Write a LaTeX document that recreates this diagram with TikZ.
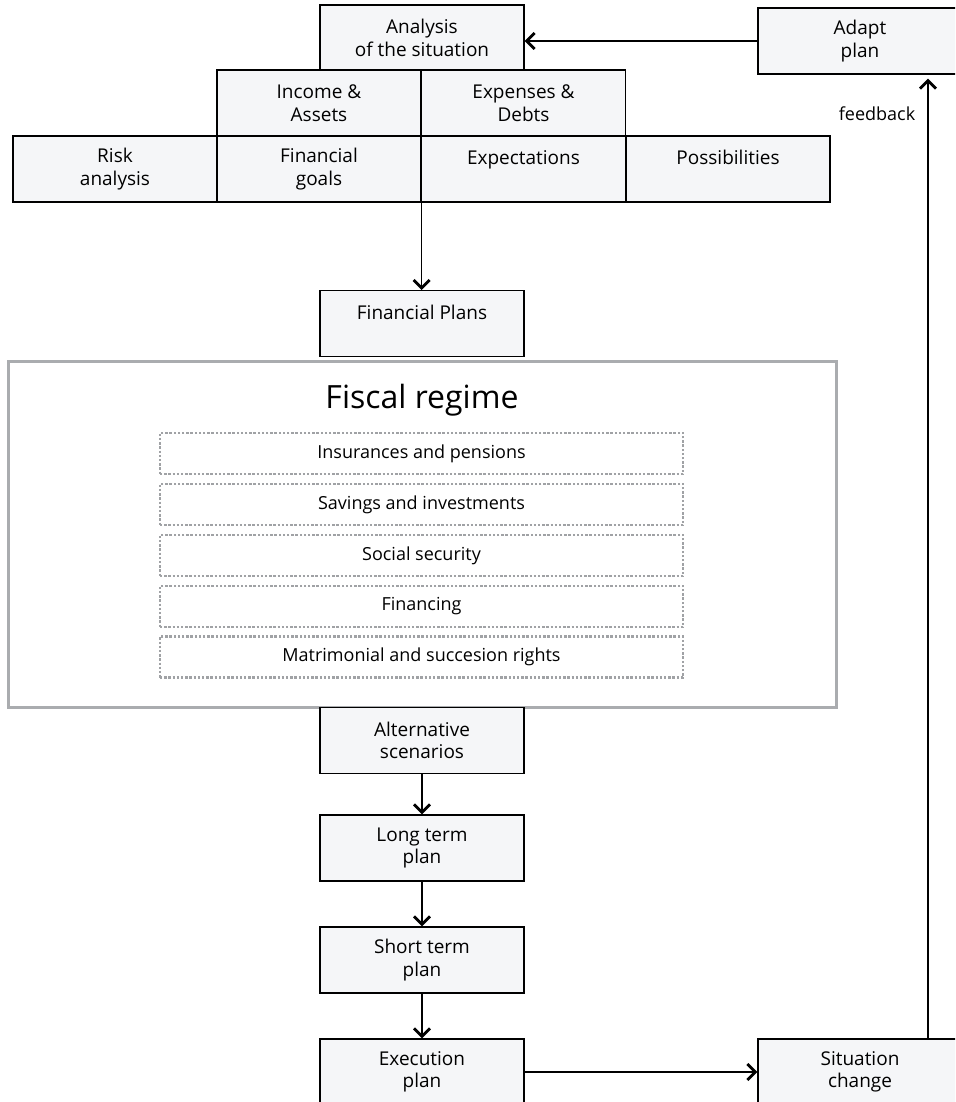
\documentclass[tikz,border=0pt]{standalone}
\usepackage{fontspec}
\setmainfont{Open Sans}
\usetikzlibrary{arrows.meta,positioning}
\definecolor{boxfill}{RGB}{245,246,248}
\definecolor{framegray}{RGB}{170,172,175}
\definecolor{dotgray}{RGB}{160,162,165}
\tikzset{
  stepbox/.style = {draw=black, line width=1.2pt, fill=boxfill, minimum width=204pt, minimum height=66pt, inner sep=0pt, align=center, font=\fontsize{19}{22.5}\selectfont},
  topicbox/.style = {draw=dotgray, line width=2.6pt, dash pattern=on 2.4pt off 1.8pt, minimum width=523pt, minimum height=41pt, inner sep=0pt, font=\fontsize{18}{20}\selectfont},
  regimebox/.style = {draw=framegray, line width=3pt, fill=white, minimum width=828pt, minimum height=346pt, inner sep=0pt},
  flow/.style = {line width=1.3pt, -{Straight Barb[length=8pt, width=16pt, line width=2.8pt]}},
}
\begin{document}
\begin{tikzpicture}[x=1pt, y=-1pt]
\path[use as bounding box, clip] (0,0) rectangle (955,1102);

% Analysis of the situation
\node[stepbox] (analysis) at (422,38) {Analysis\\of the situation};
\node[stepbox] (income) at (319,103) {Income \&\\Assets};
\node[stepbox] (expenses) at (523.5,103) {Expenses \&\\Debts};
\node[stepbox] (risk) at (115,169) {Risk\\analysis};
\node[stepbox] (goals) at (319,169) {Financial\\goals};
\node[stepbox] (expect) at (523.5,169) {Expectations\\\mbox{}};
\node[stepbox] (possib) at (728,169) {Possibilities\\\mbox{}};

% Feedback loop
\node[stepbox] (adapt) at (860,41) {Adapt\\plan};
\node[font=\fontsize{18}{20}\selectfont] (fbtext) at (877,114) {feedback};
\coordinate (fbx) at (928,0);

\node[stepbox] (plans) at (422,323.5) {Financial Plans\\\mbox{}};

% Fiscal regime
\node[regimebox] (fiscal) at (422,534) {};
\node[font=\fontsize{32}{36}\selectfont] (regime) at (422,400) {Fiscal regime};
\node[topicbox] (insur) at (421.5,453.5) {Insurances and pensions};
\node[topicbox] (savings) at (421.5,504.5) {Savings and investments};
\node[topicbox] (social) at (421.5,555.5) {Social security};
\node[topicbox] (financing) at (421.5,606.5) {Financing};
\node[topicbox] (rights) at (421.5,657) {Matrimonial and succesion rights};

% Plans
\node[stepbox] (alt) at (422,740.5) {Alternative\\scenarios};
\node[stepbox] (longterm) at (422,848) {Long term\\plan};
\node[stepbox] (shortterm) at (422,960) {Short term\\plan};
\node[stepbox] (exec) at (422,1072) {Execution\\plan};
\node[stepbox] (change) at (860,1072) {Situation\\change};

\draw[flow] (adapt.west) -- (analysis.east |- adapt.west);
\draw[flow] (goals.south east) -- (goals.south east |- plans.north);
\draw[flow] (alt) -- (longterm);
\draw[flow] (longterm) -- (shortterm);
\draw[flow] (shortterm) -- (exec);
\draw[flow] (exec) -- (change);
\draw[flow, shorten >=4pt] (change.north -| fbx) -- (adapt.south -| fbx);

\end{tikzpicture}
\end{document}
